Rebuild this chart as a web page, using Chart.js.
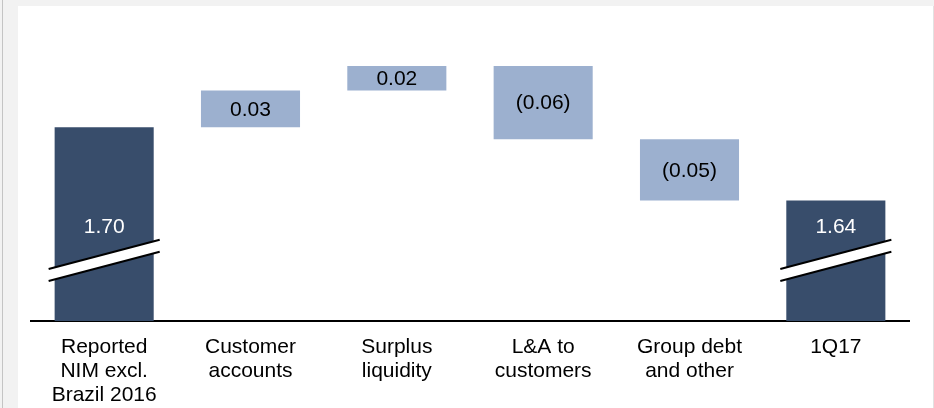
<!DOCTYPE html>
<html>
<head>
<meta charset="utf-8">
<script src="https://cdn.jsdelivr.net/npm/chart.js@4/dist/chart.umd.min.js"></script>
<style>
  html, body { margin: 0; padding: 0; }
  body { width: 934px; height: 408px; background: #f2f2f2; position: relative; overflow: hidden; font-family: "Liberation Sans", Arial, sans-serif; }
  #edge { position: absolute; left: 2px; top: 0; width: 1px; height: 408px; background: #c4c4c4; }
  #panel { position: absolute; left: 18px; top: 6px; width: 915px; height: 402px; background: #fff; }
  #rline { position: absolute; left: 933px; top: 6px; width: 1px; height: 402px; background: #e2e2e2; }
</style>
</head>
<body>
<div id="edge"></div>
<div id="panel"><canvas id="nimChart" width="915" height="402"></canvas></div>
<div id="rline"></div>
<script>
  const categories = [
    ["Reported", "NIM excl.", "Brazil 2016"],
    ["Customer", "accounts"],
    ["Surplus", "liquidity"],
    ["L&A to", "customers"],
    ["Group debt", "and other"],
    ["1Q17"]
  ];
  const values = [1.70, 0.03, 0.02, -0.06, -0.05, 1.64];
  const isTotal = [true, false, false, false, false, true];

  const axisMin = 1.5414;
  const axisMax = 1.7991;
  const breakValue = 1.591;

  const darkBlue = "#384d6b";
  const lightBlue = "#9cb0cf";

  // build floating bars for the waterfall
  let running = 0;
  const bars = values.map(function (v, i) {
    if (isTotal[i]) {
      running = v;
      return [axisMin, v];
    }
    const start = running;
    running = +(running + v).toFixed(4);
    return [Math.min(start, running), Math.max(start, running)];
  });

  function fmt(v) {
    return v < 0 ? "(" + Math.abs(v).toFixed(2) + ")" : v.toFixed(2);
  }

  const labelsPlugin = {
    id: "waterfallLabels",
    afterDatasetsDraw(chart) {
      const ctx = chart.ctx;
      const meta = chart.getDatasetMeta(0);
      const y = chart.scales.y;
      ctx.save();
      meta.data.forEach(function (bar, i) {
        const half = bar.width / 2;
        if (isTotal[i]) {
          const yc = y.getPixelForValue(breakValue);
          const x0 = bar.x - half - 6;
          const x1 = bar.x + half + 6;
          const slope = -29 / 110.7;
          const dy0 = (x0 - bar.x) * slope;
          const dy1 = (x1 - bar.x) * slope;
          // white band
          ctx.fillStyle = "#fff";
          ctx.beginPath();
          ctx.moveTo(x0, yc - 6 + dy0);
          ctx.lineTo(x1, yc - 6 + dy1);
          ctx.lineTo(x1, yc + 6 + dy1);
          ctx.lineTo(x0, yc + 6 + dy0);
          ctx.closePath();
          ctx.fill();
          ctx.strokeStyle = "#000";
          ctx.lineWidth = 2;
          ctx.beginPath();
          ctx.moveTo(x0, yc - 6 + dy0);
          ctx.lineTo(x1, yc - 6 + dy1);
          ctx.moveTo(x0, yc + 6 + dy0);
          ctx.lineTo(x1, yc + 6 + dy1);
          ctx.stroke();
        }
        ctx.font = "21px 'Liberation Sans', Arial, sans-serif";
        ctx.textAlign = "center";
        ctx.textBaseline = "middle";
        let ty;
        if (isTotal[i]) {
          ctx.fillStyle = "#fff";
          ty = y.getPixelForValue(breakValue) - 34;
        } else {
          ctx.fillStyle = "#000";
          ty = (bar.y + bar.base) / 2;
        }
        ctx.fillText(fmt(values[i]), bar.x, ty + 1);
      });
      ctx.restore();
    }
  };

  new Chart(document.getElementById("nimChart").getContext("2d"), {
    type: "bar",
    data: {
      labels: categories,
      datasets: [{
        data: bars,
        backgroundColor: isTotal.map(t => t ? darkBlue : lightBlue),
        borderWidth: 0,
        barPercentage: 0.677,
        categoryPercentage: 1
      }]
    },
    options: {
      responsive: false,
      animation: false,
      layout: { padding: { left: 13, right: 24, top: 0, bottom: 0 } },
      plugins: { legend: { display: false }, tooltip: { enabled: false } },
      scales: {
        x: {
          grid: { display: false, drawTicks: false },
          border: { display: true, color: "#000", width: 2 },
          ticks: {
            color: "#000",
            padding: 14,
            maxRotation: 0,
            autoSkip: false,
            font: { family: "'Liberation Sans', Arial, sans-serif", size: 21, lineHeight: 1.15 }
          },
          afterFit(scale) { scale.height = 87; }
        },
        y: {
          display: false,
          min: axisMin,
          max: axisMax
        }
      }
    },
    plugins: [labelsPlugin]
  });
</script>
</body>
</html>
